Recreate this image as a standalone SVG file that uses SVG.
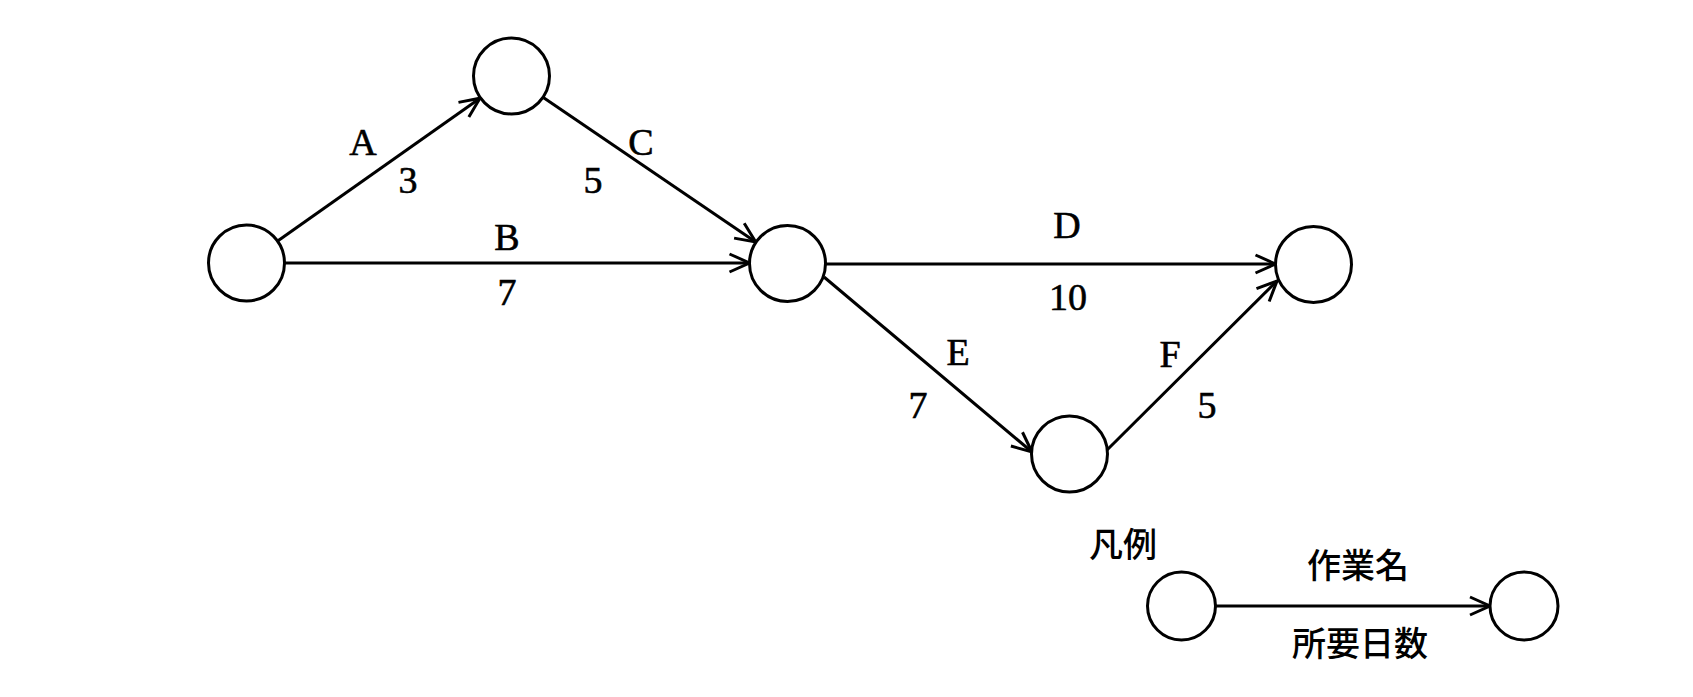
<svg xmlns="http://www.w3.org/2000/svg" width="1693" height="697" viewBox="0 0 1693 697">
<defs>
<style>
.node{fill:#fff;stroke:#000;stroke-width:3}
.edge{fill:none;stroke:#000;stroke-width:3;marker-end:url(#arr)}
.lbl{font-family:"Liberation Serif","DejaVu Serif",serif;font-size:38px;fill:#000;stroke:#000;stroke-width:0.6;text-anchor:middle}
.cjk{font-family:"Noto Sans CJK JP","Noto Sans CJK SC",sans-serif;font-size:34px;font-weight:500;fill:#000;text-anchor:middle}
</style>
<marker id="arr" markerUnits="userSpaceOnUse" viewBox="-25 -15 30 30" markerWidth="30" markerHeight="30" refX="0" refY="0" orient="auto">
<path d="M-20,-9 L0,0 L-20,9" fill="none" stroke="#000" stroke-width="3"/>
</marker>
</defs>
<rect width="1693" height="697" fill="#fff"/>
<g id="connectors">
<line class="edge" x1="278" y1="240.8" x2="480" y2="98.2"/>
<line class="edge" x1="543.3" y1="97.6" x2="755.7" y2="241.9"/>
<line class="edge" x1="285" y1="263" x2="749.5" y2="263"/>
<line class="edge" x1="825.5" y1="264" x2="1275.5" y2="264"/>
<line class="edge" x1="824" y1="277" x2="1032" y2="452"/>
<line class="edge" x1="1107" y1="450" x2="1277" y2="281"/>
<line class="edge" x1="1215.5" y1="606" x2="1490" y2="606"/>
</g>
<g id="n1"><circle class="node" cx="246.5" cy="263" r="38"/></g>
<g id="n2"><circle class="node" cx="511.5" cy="76" r="38"/></g>
<g id="n3"><circle class="node" cx="787.5" cy="263.5" r="38"/></g>
<g id="n4"><circle class="node" cx="1313.5" cy="264.5" r="38"/></g>
<g id="n5"><circle class="node" cx="1069.5" cy="454" r="38"/></g>
<g id="labels">
<text class="lbl" x="363" y="155">A</text>
<text class="lbl" x="408" y="193">3</text>
<text class="lbl" x="641" y="155">C</text>
<text class="lbl" x="593" y="193">5</text>
<text class="lbl" x="507" y="250">B</text>
<text class="lbl" x="507" y="305">7</text>
<text class="lbl" x="1067" y="238">D</text>
<text class="lbl" x="1068" y="310">10</text>
<text class="lbl" x="958" y="365">E</text>
<text class="lbl" x="918" y="418">7</text>
<text class="lbl" x="1170" y="367">F</text>
<text class="lbl" x="1207" y="418">5</text>
</g>
<g id="legend">
<text class="cjk" x="1123" y="557">凡例</text>
<g id="legend-from"><circle class="node" cx="1181.5" cy="606" r="34"/></g>
<g id="legend-to"><circle class="node" cx="1524" cy="606" r="34"/></g>
<text class="cjk" x="1358" y="578">作業名</text>
<text class="cjk" x="1360" y="656">所要日数</text>
</g>
</svg>
